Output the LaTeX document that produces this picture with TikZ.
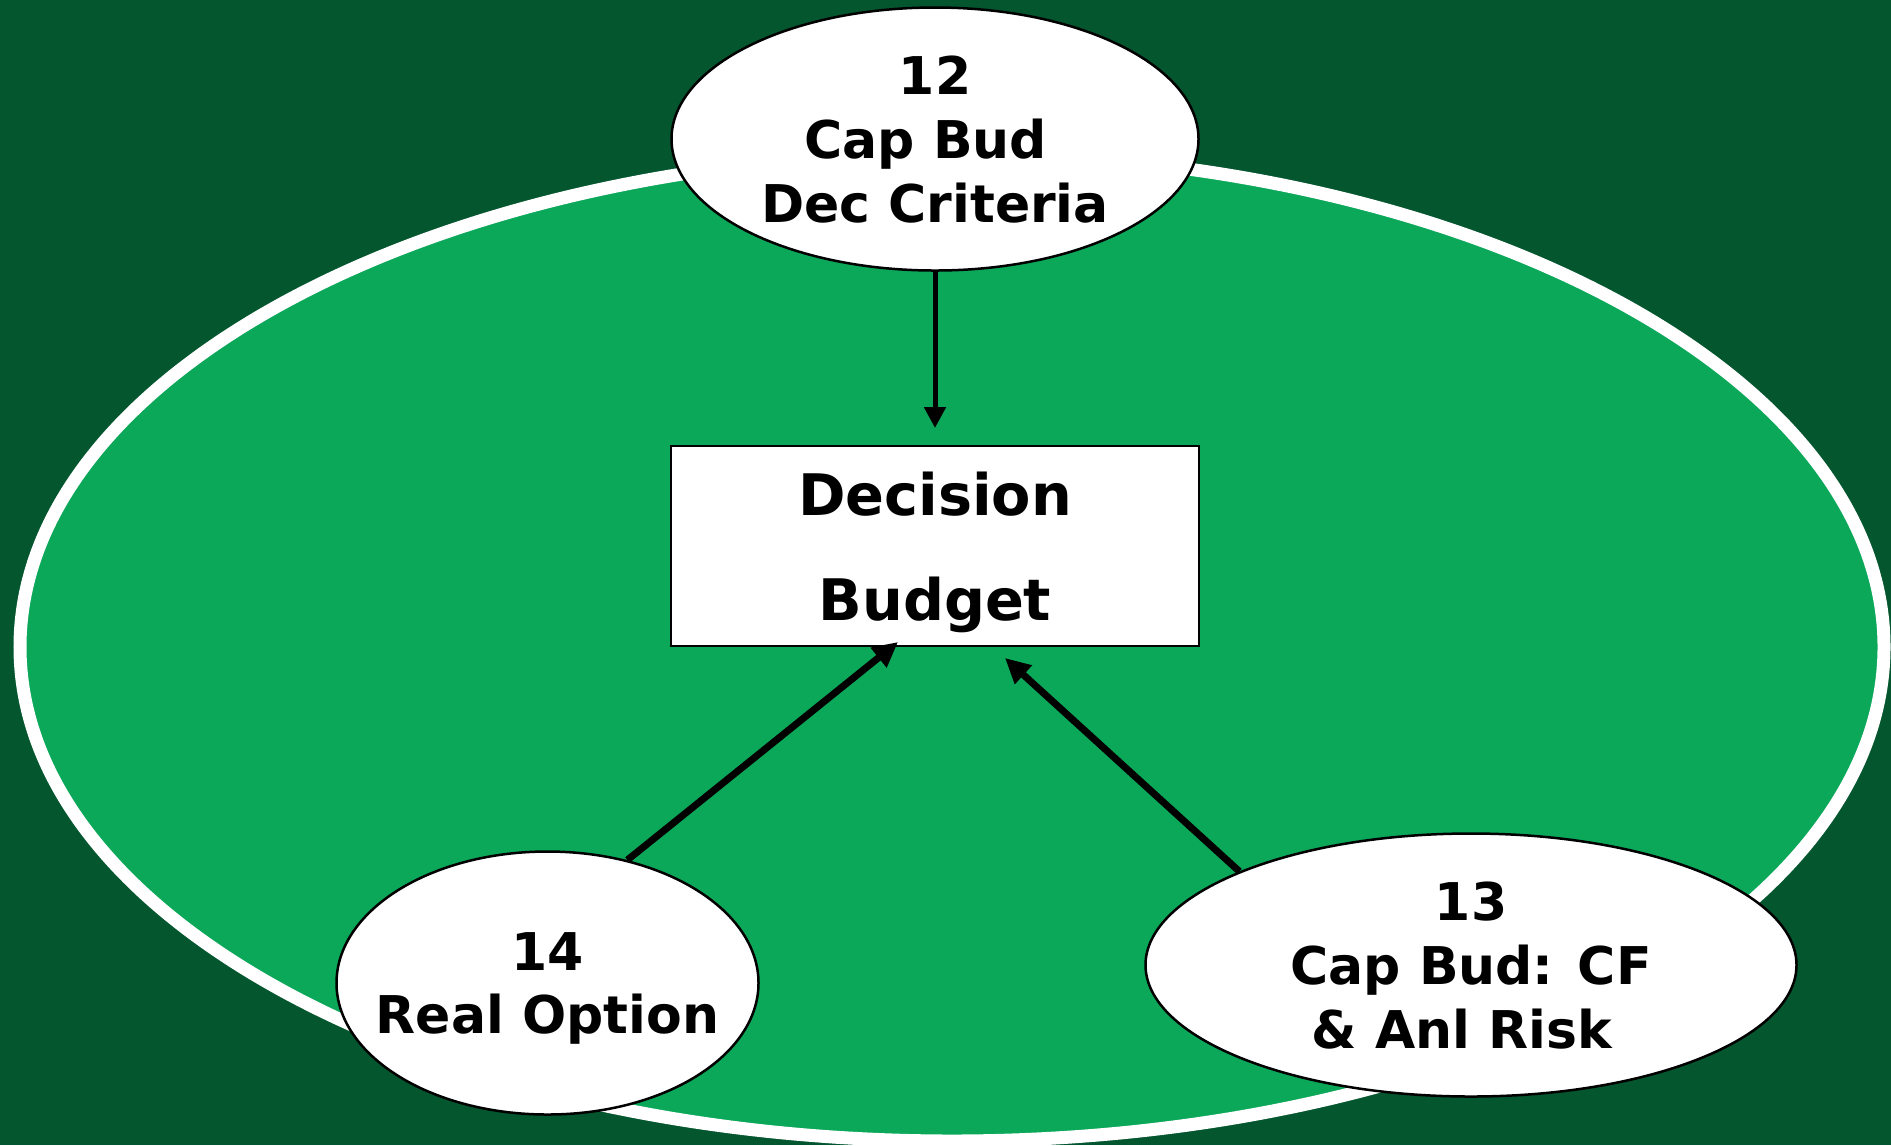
\documentclass[tikz,border=0pt]{standalone}
\usepackage{fontspec}
\setmainfont{DejaVu Sans}
\usetikzlibrary{shapes.geometric,arrows.meta}
\definecolor{bgdark}{RGB}{4,86,46}
\definecolor{bglight}{RGB}{11,168,90}
\tikzset{
	topic/.style={ellipse,draw=black,line width=0.025cm,fill=white,inner xsep=-0.3cm,inner ysep=0pt,
		minimum height=2.63cm,text depth=0pt,align=center,font=\bfseries\fontsize{14.8}{18.2}\selectfont},
	budgetbox/.style={rectangle,draw=black,line width=0.02cm,fill=white,inner sep=0pt,text depth=0pt,
		minimum width=5.28cm,minimum height=2cm,align=center,font=\bfseries\fontsize{16.3}{29.9}\selectfont},
	link/.style={line width=0.07cm,-{Triangle[length=0.25cm,width=0.24cm]}}
}

\begin{document}
\begin{tikzpicture}
		\useasboundingbox (0,0) rectangle (18.91,-11.45);
		\fill[bgdark] (0,0) rectangle (18.91,-11.45);
		\draw[line width=0.13cm,white,fill=bglight] (9.52,-6.47) ellipse (9.32 and 4.94);

		\node[topic,minimum width=5.27cm] (crit) at (9.35,-1.39) {12\\Cap Bud\kern.35em\\Dec Criteria};
		\node[topic,minimum width=4.22cm] (opt)  at (5.475,-9.83) {14\\Real Option};
		\node[topic,minimum width=6.51cm] (risk) at (14.71,-9.65) {13\\Cap Bud: CF\\\& Anl Risk\kern.35em};
		\node[budgetbox] (dec) at (9.35,-5.46) {Decision\\Budget};

		\coordinate (t1) at (9.35,-4.28);
		\coordinate (t2) at (8.98,-6.42);
		\coordinate (t3) at (10.05,-6.58);

		\draw[link,line width=0.05cm,-{Triangle[length=0.21cm,width=0.21cm]}] (crit.south) -- (t1);
		\draw[link] (opt.57) -- (t2);
		\draw[link] (risk.158) -- (t3);
	\end{tikzpicture}
\end{document}
